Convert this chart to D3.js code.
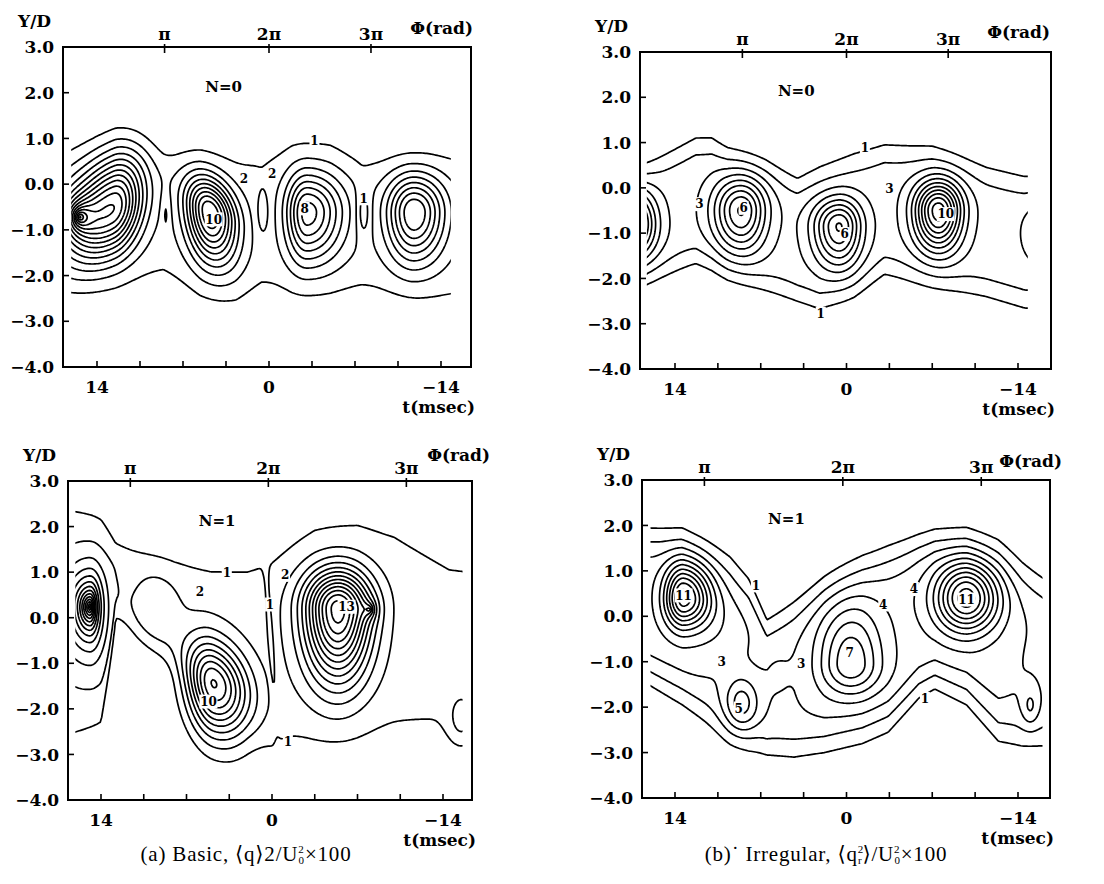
<!DOCTYPE html>
<html>
<head>
<meta charset="utf-8">
<script src="https://cdn.jsdelivr.net/npm/d3@7"></script>
<style>
body { margin: 0; background: #fff; }
text { fill: #000; }
.ax { font-family: "DejaVu Serif", serif; font-size: 17px; font-weight: bold; }
.nlab { font-family: "DejaVu Serif", serif; font-size: 15px; font-weight: bold; }
.clab { font-family: "DejaVu Serif", serif; font-size: 12px; font-weight: bold; }
.cap { font-family: "Liberation Serif", "DejaVu Serif", serif; font-size: 21px; letter-spacing: 0.8px; }
.frame { fill: none; stroke: #000; stroke-width: 2; }
.tick { stroke: #000; stroke-width: 1.6; }
.iso { fill: none; stroke: #000; stroke-width: 1.7; stroke-linejoin: round; }
</style>
</head>
<body>
<svg id="chart" width="1104" height="884"></svg>
<script>
// axis values
var yTicks = [3, 2, 1, 0, -1, -2, -3, -4];
var tTicks = [14, 10.5, 7, 3.5, 0, -3.5, -7, -10.5, -14];
var tLabels = [14, 0, -14];
var phaseNames = ["π", "2π", "3π"];
var phaseTimesN0 = [8.5, 0, -8.3];
var phaseTimesN1 = [11.6, 0.3, -11.0];

// wake band: [t, level-1 top, level-1 bottom, core level]
var bandBasicN0 = [[17, 0.45, -2.1, 1.5], [12.5, 0.75, -2.0, 1.5], [8.6, 0.45, -1.85, 1.5], [5.6, 0.5, -2.25, 1.5],
    [2.7, 0.4, -2.35, 1.5], [0.6, 0.4, -2.1, 1.5], [-1.9, 0.7, -2.2, 1.5], [-5, 0.7, -2.2, 1.5],
    [-7.5, 0.35, -2.15, 1.5], [-12, 0.35, -2.3, 1.5], [-16, 0.45, -2.35, 1.5]];
var bandIrrN0 = [[16.4, 0.5, -2.1, 2.6], [12.3, 1.1, -1.65, 2.6], [11, 1.1, -1.75, 2.6], [9.7, 0.85, -1.95, 2.6],
    [6.6, 0.55, -2.25, 2.6], [4, 0.2, -2.5, 2.6], [2.2, 0.45, -2.65, 2.6], [-0.6, 0.75, -2.35, 2.6],
    [-3.1, 0.95, -1.9, 2.6], [-7, 0.9, -2.15, 2.6], [-11.4, 0.45, -2.4, 2.6], [-14.5, 0.25, -2.65, 2.6],
    [-16.5, 0.25, -2.7, 2.6]];
var bandBasicN1 = [[16.5, 2.1, -2.4, 1.5], [14, 1.85, -2.1, 1.5], [12.8, 1.55, 0.25, 1.5], [11, 1.4, -0.2, 1.5],
    [8, 1.15, -0.8, 1.5], [5, 1.0, -1.5, 1.5], [2, 1.0, -2.0, 1.5], [0, 1.15, -2.55, 1.5],
    [-3.5, 1.8, -2.45, 1.5], [-7, 1.95, -2.35, 1.5], [-10, 1.75, -2.25, 1.5], [-14.5, 1.05, -2.2, 1.5],
    [-16, 1.0, -2.2, 1.5]];
var bandIrrN1 = [[16.5, 1.95, -1.45, 3.6], [13.4, 1.9, -1.95, 3.5], [9.5, 1.25, -2.7, 2.7], [8, 0.8, -2.9, 2.7],
    [6.5, -0.1, -3.05, 2.7], [4.3, 0.3, -3.1, 2.9], [1.8, 0.8, -3.0, 3.4], [-1.3, 1.3, -2.8, 3.6],
    [-3.4, 1.55, -2.55, 3.6], [-5.9, 1.8, -1.8, 3.6], [-7.2, 1.9, -1.6, 3.6], [-9.8, 1.9, -1.95, 3.6],
    [-12.4, 1.6, -2.75, 3.4], [-14.3, 1.15, -2.85, 3.0], [-16.5, 0.75, -2.85, 2.8]];

// vortex peaks: [t, Y, amplitude, sx left, sx right, sy up, sy down, tilt, shape]
var peaksBasicN0 = [
    [12.6, -0.5, 10, 2.4, 1.6, 0.72, 0.68, -0.12, 2],
    [15.4, -0.72, 9, 0.5, 0.5, 0.16, 0.16, 0, 1],
    [4.8, -0.62, 9.5, 1.35, 1.45, 0.5, 0.72, 0.12, 2],
    [-3.1, -0.62, 7.0, 1.15, 2.0, 0.58, 0.72, 0, 2],
    [-11.8, -0.62, 7.5, 1.5, 1.7, 0.55, 0.72, 0, 2],
    [8.4, -0.62, -1.0, 0.25, 0.25, 0.35, 0.35, 0, 2],
    [0.5, -0.62, -1.1, 0.4, 0.4, 0.4, 0.4, 0, 2],
    [-7.7, -0.62, -1.6, 0.4, 0.4, 0.4, 0.4, 0, 2]];
var peaksIrrN0 = [
    [17.6, -0.8, 8, 1.3, 1.3, 0.5, 0.5, 0, 2],
    [8.6, -0.5, 6.5, 1.55, 1.4, 0.5, 0.62, 0, 2],
    [0.6, -0.85, 6.5, 1.45, 1.25, 0.42, 0.62, 0, 2],
    [-7.5, -0.5, 9, 1.35, 1.3, 0.45, 0.6, 0, 2],
    [-16.0, -1.0, 2.0, 1.0, 1.0, 0.4, 0.4, 0, 2]];
var peaksBasicN1 = [
    [14.9, 0.24, 13, 0.6, 0.35, 0.26, 0.3, 0, 1],
    [4.8, -1.5, 9, 1.53, 1.96, 0.66, 0.77, 0.1, 2],
    [9.5, 0.1, 1.3, 1.4, 1.4, 0.6, 0.6, 0, 2],
    [-5.4, 0.2, 12, 1.88, 1.8, 0.58, 1.06, 0, 2],
    [-8.0, 0.18, 4, 0.25, 0.2, 0.07, 0.07, 0, 1],
    [0.1, -0.55, -1.3, 0.3, 0.3, 0.6, 0.6, 2.5, 2],
    [-15.5, -2.3, 1.5, 0.8, 0.8, 0.4, 0.4, 0, 2]];
var peaksIrrN1 = [
    [13.3, 0.4, 8, 1.06, 1.55, 0.53, 0.45, 0, 2],
    [-9.8, 0.4, 8, 1.75, 1.75, 0.55, 0.51, 0, 2],
    [-0.3, -1.05, 4.3, 1.7, 1.77, 0.89, 0.47, 0, 2],
    [8.6, -1.95, 3, 1.0, 1.0, 0.42, 0.42, 0, 2],
    [-15, -2.0, 1.5, 0.5, 0.5, 0.3, 0.3, 0, 2],
    [10.0, -0.35, 0.8, 2.0, 1.5, 0.6, 0.5, 0, 2],
    [5.9, -1.27, 0.3, 0.9, 0.9, 0.45, 0.45, 0, 2]];

// contour labels: [t, Y, text]
var labelsBasicN0 = [[-3.7, 0.94, "1"], [2.05, 0.11, "2"], [-0.25, 0.22, "2"], [4.5, -0.77, "10"], [-2.9, -0.53, "8"], [-7.7, -0.31, "1"]];
var labelsIrrN0 = [[-1.5, 0.88, "1"], [2.1, -2.78, "1"], [12.0, -0.36, "3"], [-3.5, -0.02, "3"], [8.4, -0.44, "6"], [0.15, -1.02, "6"], [-8.1, -0.58, "10"]];
var labelsBasicN1 = [[3.7, 0.99, "1"], [5.9, 0.57, "2"], [-1.07, 0.94, "2"], [0.16, 0.29, "1"], [-6.1, 0.24, "13"], [5.2, -1.84, "10"], [-1.3, -2.72, "1"]];
var labelsIrrN1 = [[13.3, 0.46, "11"], [-9.8, 0.37, "11"], [7.4, 0.68, "1"], [-3.0, 0.26, "4"], [-5.5, 0.6, "4"], [-0.25, -0.79, "7"], [10.2, -1.0, "3"], [3.7, -1.05, "3"], [8.8, -2.03, "5"], [-6.4, -1.82, "1"]];

var panels = [
    {box: [63, 471, 47, 367], t14: [97, 441], span: [16.1, -14.8], n: "N=0", nt: 3.7, phase: phaseTimesN0, phi: [2, -13],
     band: bandBasicN0, blobs: peaksBasicN0, labels: labelsBasicN0},
    {box: [640, 1051, 52, 369], t14: [675, 1018], span: [16.3, -14.8], n: "N=0", nt: 4.1, phase: phaseTimesN0, phi: [-1, -14],
     band: bandIrrN0, blobs: peaksIrrN0, labels: labelsIrrN0},
    {box: [68, 472, 481, 800], t14: [101, 443], span: [16.1, -15.6], n: "N=1", nt: 4.5, phase: phaseTimesN1, phi: [18, -20],
     band: bandBasicN1, blobs: peaksBasicN1, labels: labelsBasicN1},
    {box: [642, 1050, 480, 798], t14: [675, 1018], span: [16.0, -16.0], n: "N=1", nt: 4.9, phase: phaseTimesN1, phi: [12, -13],
     band: bandIrrN1, blobs: peaksIrrN1, labels: labelsIrrN1}
];

var svg = d3.select("#chart");
var CELL = 1.5;

function minus(s) { return String(s).replace("-", "\u2212"); }

function bandAt(knots, t) {
    if (t >= knots[0][0]) return knots[0];
    var last = knots[knots.length - 1];
    if (t <= last[0]) return last;
    for (var i = 0; i < knots.length - 1; i++) {
        var a = knots[i], b = knots[i + 1];
        if (t <= a[0] && t >= b[0]) {
            var f = (a[0] - t) / (a[0] - b[0]);
            return [t, a[1] + f * (b[1] - a[1]), a[2] + f * (b[2] - a[2]), a[3] + f * (b[3] - a[3])];
        }
    }
    return last;
}

function fieldAt(p, t, y) {
    var k = bandAt(p.band, t);
    var c = (k[1] + k[2]) / 2, h = (k[1] - k[2]) / 2;
    var s = h / Math.pow(2 * Math.log(k[3]), 0.25);
    var d = (y - c) / s;
    var v = k[3] * Math.exp(-0.5 * d * d * d * d);
    p.blobs.forEach(function(b) {
        var dt = t - b[0];
        var dy = y - b[1] - b[7] * dt;
        var sx = dt > 0 ? b[3] : b[4];
        var sy = dy > 0 ? b[5] : b[6];
        var rr = (dt / sx) * (dt / sx) + (dy / sy) * (dy / sy);
        v += b[2] * Math.exp(-0.5 * Math.pow(rr, b[8] / 2));
    });
    return v;
}

panels.forEach(function(p, pi) {
    var L = p.box[0], R = p.box[1], T = p.box[2], B = p.box[3];
    var x = d3.scaleLinear().domain([14, -14]).range(p.t14);
    var y = d3.scaleLinear().domain([3, -4]).range([T, B]);
    var g = svg.append("g");

    // contour field on a pixel grid
    var gx0 = L - 6, gy0 = T - 6;
    var nx = Math.ceil((R - L + 12) / CELL), ny = Math.ceil((B - T + 12) / CELL);
    var values = new Array(nx * ny);
    for (var j = 0; j < ny; j++) {
        for (var i = 0; i < nx; i++) {
            var px = gx0 + (i + 0.5) * CELL, py = gy0 + (j + 0.5) * CELL;
            values[i + j * nx] = fieldAt(p, x.invert(px), y.invert(py));
        }
    }
    var contours = d3.contours().size([nx, ny]).thresholds(d3.range(1, 20))(values);
    var path = d3.geoPath(d3.geoIdentity().scale(CELL).translate([gx0, gy0]));

    var clipId = "clip" + pi;
    svg.append("clipPath").attr("id", clipId).append("rect")
        .attr("x", x(p.span[0])).attr("y", T + 1)
        .attr("width", x(p.span[1]) - x(p.span[0])).attr("height", B - T - 2);

    g.append("g").attr("clip-path", "url(#" + clipId + ")")
        .selectAll("path").data(contours).enter().append("path")
        .attr("class", "iso").attr("d", path);

    // contour labels
    var lab = g.selectAll(".cl").data(p.labels).enter().append("g")
        .attr("transform", function(d) { return "translate(" + x(d[0]) + "," + y(d[1]) + ")"; });
    lab.append("rect")
        .attr("x", function(d) { return -d[2].length * 4 - 1; }).attr("y", -7)
        .attr("width", function(d) { return d[2].length * 8 + 2; }).attr("height", 14)
        .attr("fill", "#fff");
    lab.append("text").attr("class", "clab").attr("text-anchor", "middle").attr("dy", "0.36em")
        .text(function(d) { return d[2]; });

    // frame and ticks
    g.append("rect").attr("class", "frame").attr("x", L).attr("y", T).attr("width", R - L).attr("height", B - T);
    g.selectAll(".yt").data(yTicks).enter().append("line").attr("class", "tick")
        .attr("x1", L).attr("x2", L + 6).attr("y1", y).attr("y2", y);
    g.selectAll(".ytl").data(yTicks).enter().append("text").attr("class", "ax")
        .attr("x", L - 9).attr("y", y).attr("dy", "0.36em").attr("text-anchor", "end")
        .text(function(d) { return minus(d.toFixed(1)); });
    g.selectAll(".xt").data(tTicks).enter().append("line").attr("class", "tick")
        .attr("x1", x).attr("x2", x).attr("y1", B).attr("y2", B - 6);
    g.selectAll(".xtl").data(tLabels).enter().append("text").attr("class", "ax")
        .attr("x", x).attr("y", B + 26).attr("text-anchor", "middle")
        .text(function(d) { return minus(d); });
    g.selectAll(".pt").data(p.phase).enter().append("line").attr("class", "tick")
        .attr("x1", x).attr("x2", x).attr("y1", T - 3).attr("y2", T + 6);
    g.selectAll(".ptl").data(p.phase).enter().append("text").attr("class", "ax")
        .attr("x", x).attr("y", T - 7).attr("text-anchor", "middle")
        .text(function(d, i) { return phaseNames[i]; });

    g.append("text").attr("class", "ax").attr("x", L - 45).attr("y", T - 20).text("Y/D");
    g.append("text").attr("class", "ax").attr("x", R + p.phi[0]).attr("y", T + p.phi[1])
        .attr("text-anchor", "end").text("\u03a6(rad)");
    g.append("text").attr("class", "ax").attr("x", R + 4).attr("y", B + 46).attr("text-anchor", "end").text("t(msec)");
    g.append("text").attr("class", "nlab").attr("x", x(p.nt)).attr("y", y(2.0) - 1).attr("text-anchor", "middle").text(p.n);
});

// captions: [text, small?, dy, dx]
function caption(cx, parts) {
    var t = svg.append("text").attr("class", "cap").attr("x", cx).attr("y", 861).attr("text-anchor", "middle");
    parts.forEach(function(s) {
        var ts = t.append("tspan").text(s[0]);
        if (s[1]) ts.attr("font-size", 11);
        if (s[2]) ts.attr("dy", s[2]);
        if (s[3]) ts.attr("dx", s[3]);
    });
}
caption(246, [["(a)  Basic, \u27e8q\u27e92/U"], ["2", 1, -8], ["0", 1, 11, -6], ["\u00d7100", 0, -3]]);
caption(826, [["(b)\u02d9 Irregular, \u27e8q"], ["2", 1, -8], ["r", 1, 11, -6], ["\u27e9/U", 0, -3],
    ["2", 1, -8], ["0", 1, 11, -6], ["\u00d7100", 0, -3]]);
</script>
</body>
</html>
